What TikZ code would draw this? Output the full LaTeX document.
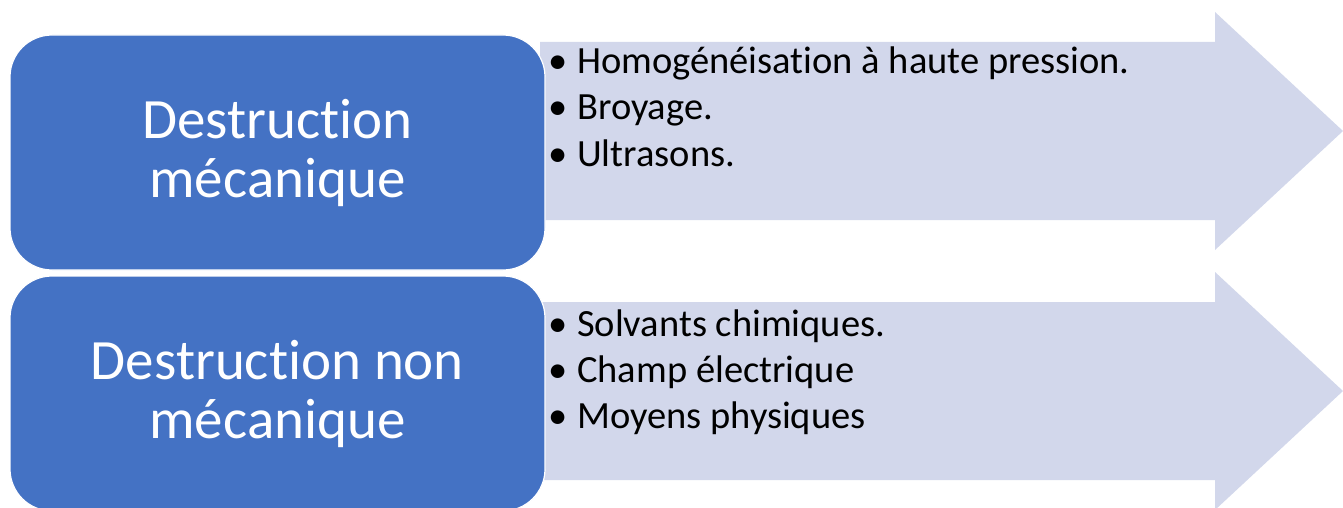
\documentclass[tikz,border=0pt]{standalone}
\usepackage{fontspec}
\setmainfont{Carlito}[Ligatures=NoCommon]
\definecolor{boxblue}{HTML}{4472C4}
\definecolor{arrowfill}{HTML}{D2D7EB}
\tikzset{
  catbox/.style={draw=white, line width=1.2pt, fill=boxblue, rounded corners=42pt,
    text=white, align=center, inner sep=0pt,
    minimum width=535pt, minimum height=235pt,
    font=\fontsize{57}{59}\selectfont},
  bigarrow/.style={fill=arrowfill, draw=none},
  item/.style={anchor=base west, inner sep=0pt, text=black,
    font=\fontsize{38.5}{46}\selectfont},
}
\newcommand{\bul}{\makebox[29pt][l]{\textbullet}}
\begin{document}
\begin{tikzpicture}[x=1pt, y=-1pt]
\useasboundingbox (0,0) rectangle (1343,508);

% block arrows behind the category boxes
\fill[bigarrow] (540,42) -- (1215,42) -- (1215,12) -- (1343,131)
  -- (1215,250) -- (1215,220) -- (540,220) -- cycle;
\fill[bigarrow] (540,302) -- (1215,302) -- (1215,272) -- (1343,391)
  -- (1215,510) -- (1215,480) -- (540,480) -- cycle;

% category boxes (text nudged to sit on the box centre)
\node[catbox] (meca) at (277.5,152.5)
  {\raisebox{-3pt}{Destruction}\\\raisebox{-3pt}{mécanique}};
\node[catbox] (nonmeca) at (277.5,393.5)
  {\raisebox{-3pt}{Destruction non}\\\raisebox{-3pt}{mécanique}};

% mechanical methods
\node[item] (m1) at (548,74)  {\bul Homogénéisation à haute pression.};
\node[item] (m2) at (548,120) {\bul Broyage.};
\node[item] (m3) at (548,166) {\bul Ultrasons.};

% non-mechanical methods
\node[item] (n1) at (548,336) {\bul Solvants chimiques.};
\node[item] (n2) at (548,382) {\bul Champ électrique};
\node[item] (n3) at (548,428) {\bul Moyens physiques};
\end{tikzpicture}
\end{document}
